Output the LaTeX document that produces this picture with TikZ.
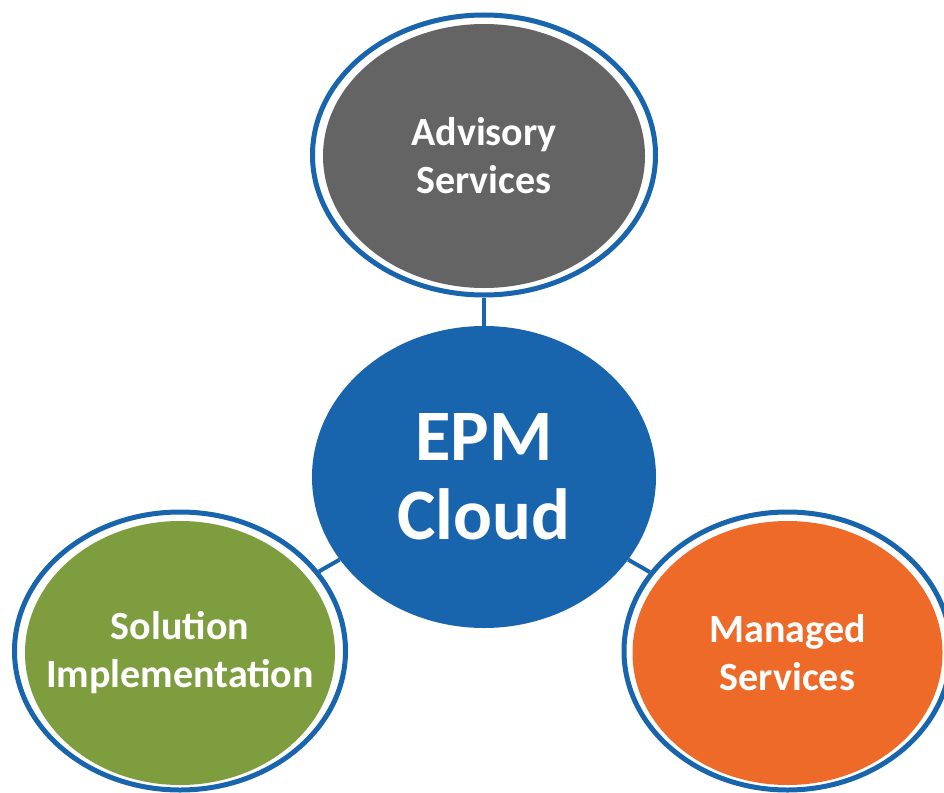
\documentclass[tikz,border=0pt]{standalone}
\usepackage{fontspec}
\setmainfont{Carlito}
\usetikzlibrary{shapes.geometric}
\definecolor{ringblue}{RGB}{24,101,173}
\definecolor{advgray}{RGB}{100,100,100}
\definecolor{solgreen}{RGB}{125,157,62}
\definecolor{mgdorange}{RGB}{237,106,40}
\tikzset{
  ring/.style={ellipse, draw=ringblue, fill=white, line width=5pt, inner sep=0pt,
    minimum width=331pt, minimum height=278pt},
  inner/.style={ellipse, draw=none, inner sep=0pt,
    minimum width=310pt, minimum height=264pt},
  hub/.style={ellipse, fill=ringblue, draw=none, inner sep=0pt,
    minimum width=344pt, minimum height=302pt},
  smalltext/.style={text=white, align=center, inner sep=0pt,
    font=\bfseries\fontsize{40}{48}\selectfont},
  bigtext/.style={text=white, align=center, inner sep=0pt,
    font=\bfseries\fontsize{72.5}{79}\selectfont},
  conn/.style={draw=ringblue, line width=4pt}
}
\begin{document}
\begin{tikzpicture}[x=1pt,y=-1pt]
\useasboundingbox (0,0) rectangle (944,792);
% outer rings
\node[ring, minimum width=343pt, minimum height=280pt] (tring) at (484,155) {};
\node[ring] (lring) at (180,651) {};
\node[ring, minimum width=327pt] (rring) at (787.5,651) {};
% hub
\node[hub] (hub) at (484,477) {};
% connectors
\draw[conn] (hub) -- (tring);
\draw[conn] (hub) -- (lring);
\draw[conn] (hub) -- (rring);
% inner discs
\node[inner, fill=advgray, minimum width=322pt] (adv) at (484,156) {};
\node[inner, fill=solgreen] (sol) at (180,653) {};
\node[inner, fill=mgdorange] (mgd) at (787.5,653) {};
% texts
\node[bigtext] (hubtxt) at (hub) {EPM\\Cloud};
\node[smalltext] (advtxt) at (adv) {Advisory\\Services};
\node[smalltext] (soltxt) at (sol) {Solution\\Implementation};
\node[smalltext] (mgdtxt) at (mgd) {Managed\\Services};
\end{tikzpicture}
\end{document}
